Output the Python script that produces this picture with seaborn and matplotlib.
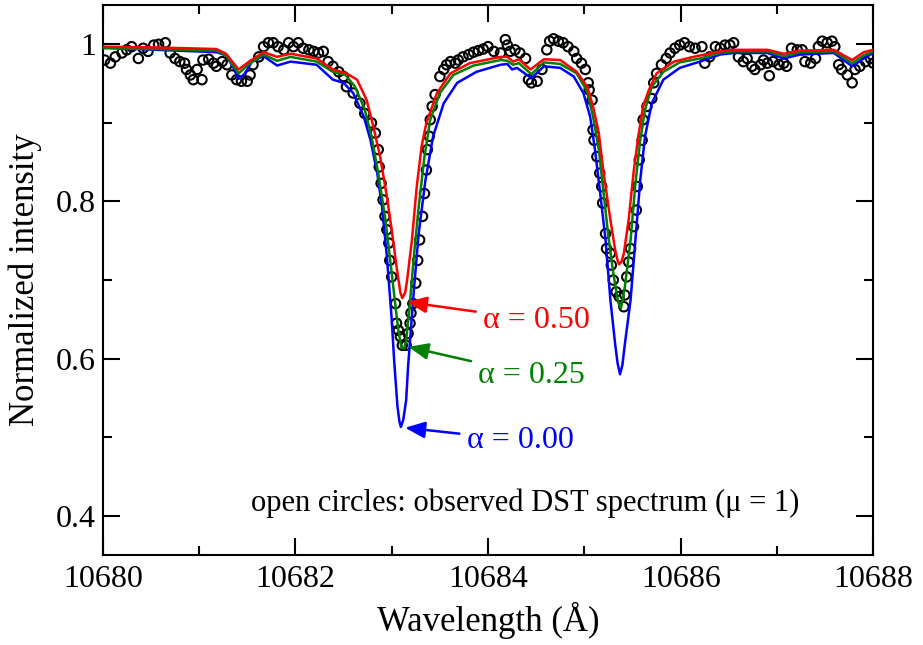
import numpy as np
import pandas as pd
import seaborn as sns
import matplotlib.pyplot as plt

# ---- model curves (wavelength in A, normalized intensity) ----
blue_wl = [10680.00, 10680.55, 10681.18, 10681.28, 10681.35, 10681.41, 10681.47, 10681.55, 10681.67, 10681.81,
           10681.95, 10682.22, 10682.39, 10682.50, 10682.60, 10682.71, 10682.78, 10682.85, 10682.90, 10682.95,
           10683.00, 10683.025, 10683.06, 10683.08, 10683.095, 10683.12, 10683.15, 10683.17, 10683.23, 10683.28,
           10683.35, 10683.43, 10683.54,
           10683.68, 10683.88, 10684.13, 10684.20, 10684.25, 10684.30, 10684.45, 10684.58, 10684.75, 10684.89,
           10684.99, 10685.06, 10685.11, 10685.16, 10685.22, 10685.27, 10685.32, 10685.345, 10685.37, 10685.395,
           10685.42, 10685.48,
           10685.53, 10685.58, 10685.63, 10685.70, 10685.82, 10685.99, 10686.20, 10686.41, 10686.55, 10686.90,
           10687.07, 10687.24, 10687.59, 10687.78, 10687.90, 10688.00]
blue_int = [0.996, 0.993, 0.990, 0.986, 0.972, 0.956, 0.962, 0.978, 0.985, 0.973,
            0.978, 0.974, 0.955, 0.951, 0.938, 0.908, 0.878, 0.836, 0.793, 0.730,
            0.650, 0.598, 0.539, 0.520, 0.513, 0.522, 0.547, 0.590, 0.687, 0.759,
            0.827, 0.883, 0.925,
            0.951, 0.965, 0.974, 0.975, 0.968, 0.970, 0.957, 0.972, 0.970, 0.959,
            0.938, 0.908, 0.866, 0.815, 0.751, 0.675, 0.618, 0.594, 0.580, 0.592,
            0.618, 0.675,
            0.751, 0.827, 0.883, 0.925, 0.955, 0.970, 0.978, 0.987, 0.989, 0.989,
            0.982, 0.987, 0.989, 0.972, 0.982, 0.989]

green_wl = [10680.00, 10680.55, 10681.18, 10681.28, 10681.41, 10681.52, 10681.67, 10681.81, 10681.95, 10682.22,
            10682.39, 10682.52, 10682.62, 10682.72, 10682.79, 10682.86, 10682.93, 10682.98, 10683.04, 10683.07,
            10683.10, 10683.13, 10683.15, 10683.18, 10683.23, 10683.28, 10683.34, 10683.40, 10683.50, 10683.64,
            10683.85,
            10684.13, 10684.20, 10684.26, 10684.32, 10684.45, 10684.58, 10684.75, 10684.92, 10685.03, 10685.09,
            10685.15, 10685.20, 10685.25, 10685.30, 10685.35, 10685.38, 10685.42, 10685.48, 10685.53, 10685.58,
            10685.63, 10685.70, 10685.82, 10685.99, 10686.20, 10686.41, 10686.55, 10686.90, 10687.07, 10687.24,
            10687.59, 10687.78, 10687.90, 10688.00]
green_int = [0.995, 0.994, 0.992, 0.986, 0.963, 0.975, 0.987, 0.979, 0.984, 0.978,
             0.965, 0.961, 0.946, 0.917, 0.883, 0.836, 0.781, 0.730, 0.666, 0.635,
             0.614, 0.613, 0.624, 0.658, 0.730, 0.793, 0.857, 0.904, 0.938, 0.961,
             0.973,
             0.980, 0.979, 0.974, 0.976, 0.962, 0.977, 0.975, 0.963, 0.940, 0.908,
             0.866, 0.810, 0.755, 0.709, 0.672, 0.664, 0.691, 0.751, 0.823, 0.878,
             0.917, 0.946, 0.965, 0.977, 0.982, 0.989, 0.991, 0.991, 0.985, 0.990,
             0.991, 0.976, 0.986, 0.991]

red_wl = [10680.00, 10680.55, 10681.18, 10681.28, 10681.41, 10681.52, 10681.67, 10681.81, 10681.95, 10682.22,
          10682.39, 10682.53, 10682.64, 10682.74, 10682.81, 10682.88, 10682.95, 10683.00, 10683.05, 10683.09,
          10683.11, 10683.14, 10683.16, 10683.21, 10683.26, 10683.31, 10683.36, 10683.47, 10683.61, 10683.81,
          10684.13, 10684.20,
          10684.26, 10684.32, 10684.44, 10684.58, 10684.75, 10684.92, 10685.03, 10685.09, 10685.15, 10685.20,
          10685.27, 10685.32, 10685.345, 10685.36, 10685.385, 10685.41, 10685.46, 10685.51, 10685.56, 10685.61,
          10685.67, 10685.75,
          10685.93, 10686.13, 10686.41, 10686.55, 10686.90, 10687.07, 10687.24, 10687.59, 10687.78, 10687.90,
          10688.00]
red_int = [0.997, 0.996, 0.994, 0.988, 0.968, 0.978, 0.990, 0.984, 0.988, 0.982,
           0.968, 0.963, 0.955, 0.929, 0.895, 0.857, 0.806, 0.764, 0.717, 0.684,
           0.677, 0.684, 0.700, 0.751, 0.819, 0.870, 0.900, 0.938, 0.963, 0.976,
           0.984, 0.984,
           0.978, 0.981, 0.968, 0.981, 0.980, 0.965, 0.946, 0.921, 0.887, 0.836,
           0.777, 0.738, 0.725, 0.720, 0.723, 0.734, 0.777, 0.836, 0.883, 0.921,
           0.942, 0.963,
           0.978, 0.984, 0.991, 0.993, 0.993, 0.988, 0.992, 0.993, 0.980, 0.990,
           0.993]

# ---- observed DST spectrum (open circles) ----
obs_wl = [10680.02, 10680.08, 10680.13, 10680.20, 10680.25, 10680.30, 10680.37, 10680.42, 10680.47, 10680.53,
          10680.58, 10680.65, 10680.70, 10680.75, 10680.80, 10680.85, 10680.87, 10680.91, 10680.94, 10680.98,
          10681.03, 10681.04, 10681.10, 10681.15, 10681.18, 10681.24, 10681.29, 10681.34, 10681.39, 10681.44,
          10681.50, 10681.53, 10681.56, 10681.62, 10681.67, 10681.72, 10681.77, 10681.82, 10681.88, 10681.93,
          10681.98, 10682.03, 10682.08, 10682.14, 10682.19, 10682.24, 10682.29, 10682.34, 10682.39, 10682.45,
          10682.50, 10682.53, 10682.60, 10682.67, 10682.72, 10682.79,
          10682.83, 10682.86, 10682.87, 10682.89, 10682.91, 10682.93, 10682.95, 10682.97, 10682.98, 10683.00,
          10683.04, 10683.05, 10683.07, 10683.09, 10683.11, 10683.15, 10683.17, 10683.19, 10683.20, 10683.22,
          10683.25, 10683.27, 10683.29, 10683.32, 10683.34, 10683.36, 10683.37, 10683.39, 10683.40, 10683.42,
          10683.45,
          10683.50, 10683.54, 10683.57, 10683.61, 10683.66, 10683.69, 10683.74, 10683.80, 10683.85, 10683.90,
          10683.95, 10684.00, 10684.06, 10684.13, 10684.18, 10684.20, 10684.23, 10684.28, 10684.33, 10684.39,
          10684.42, 10684.45, 10684.51, 10684.56, 10684.61, 10684.64, 10684.68, 10684.73, 10684.78, 10684.83,
          10684.89, 10684.92, 10684.97, 10685.01,
          10685.04, 10685.05, 10685.08, 10685.09, 10685.10, 10685.13, 10685.16, 10685.18, 10685.19, 10685.22,
          10685.23, 10685.27, 10685.28, 10685.30, 10685.33, 10685.36, 10685.41, 10685.42, 10685.44, 10685.46,
          10685.48, 10685.51, 10685.54, 10685.55, 10685.57, 10685.60, 10685.61, 10685.65, 10685.70, 10685.72,
          10685.75, 10685.80, 10685.85, 10685.89, 10685.94, 10685.99, 10686.04, 10686.09, 10686.15, 10686.22,
          10686.25, 10686.30, 10686.36, 10686.41, 10686.46, 10686.51, 10686.55, 10686.60, 10686.65, 10686.69,
          10686.74, 10686.77, 10686.83, 10686.86, 10686.90, 10686.92, 10686.96, 10687.02, 10687.07, 10687.10,
          10687.15, 10687.21, 10687.26, 10687.29, 10687.35, 10687.40, 10687.43, 10687.47, 10687.52, 10687.57,
          10687.60, 10687.64, 10687.67, 10687.73, 10687.78, 10687.81, 10687.86, 10687.92, 10687.97, 10688.00]
obs_int = [0.980, 0.976, 0.984, 0.989, 0.993, 0.997, 0.982, 0.995, 0.991, 0.999,
           1.000, 1.002, 0.989, 0.982, 0.978, 0.976, 0.968, 0.961, 0.955, 0.968,
           0.955, 0.980, 0.981, 0.976, 0.972, 0.978, 0.974, 0.961, 0.955, 0.953,
           0.953, 0.961, 0.974, 0.984, 0.997, 1.002, 1.002, 0.997, 0.993, 1.002,
           0.997, 1.002, 0.995, 0.993, 0.991, 0.989, 0.991, 0.978, 0.972, 0.965,
           0.959, 0.946, 0.938, 0.925, 0.912, 0.900,
           0.887, 0.866, 0.844, 0.823, 0.802, 0.781, 0.764, 0.747, 0.725, 0.704,
           0.670, 0.645, 0.636, 0.628, 0.617, 0.617, 0.632, 0.645, 0.658, 0.670,
           0.696, 0.725, 0.751, 0.781, 0.810, 0.840, 0.866, 0.883, 0.904, 0.921,
           0.936,
           0.959, 0.968, 0.974, 0.978, 0.976, 0.980, 0.984, 0.987, 0.990, 0.992,
           0.994, 0.997, 0.991, 0.989, 1.006, 0.999, 0.991, 0.993, 0.989, 0.982,
           0.955, 0.951, 0.953, 0.968, 0.993, 1.004, 1.007, 1.004, 1.002, 0.997,
           0.991, 0.982, 0.976, 0.968,
           0.951, 0.942, 0.929, 0.891, 0.878, 0.857, 0.836, 0.819, 0.798, 0.759,
           0.740, 0.734, 0.719, 0.700, 0.685, 0.679, 0.666, 0.681, 0.704, 0.723,
           0.740, 0.768, 0.789, 0.819, 0.853, 0.878, 0.904, 0.921, 0.931, 0.951,
           0.963, 0.974, 0.982, 0.989, 0.995, 0.999, 1.002, 0.997, 0.995, 0.997,
           0.976, 0.984, 0.997, 0.995, 0.999, 0.999, 1.002, 0.984, 0.978, 0.982,
           0.972, 0.968, 0.974, 0.980, 0.976, 0.960, 0.978, 0.974, 0.976, 0.972,
           0.995, 0.993, 0.993, 0.978, 0.976, 0.982, 0.997, 1.004, 1.002, 1.004,
           0.997, 0.974, 0.968, 0.961, 0.951, 0.968, 0.972, 0.978, 0.982, 0.976]

alpha_labels = ["α = 0.50", "α = 0.25", "α = 0.00"]
xticks = [10680, 10682, 10684, 10686, 10688]
yticks = [0.4, 0.6, 0.8, 1.0]
ytick_labels = ["0.4", "0.6", "0.8", "1"]

sns.set_style("ticks")
plt.rcParams["font.family"] = ["Liberation Serif", "DejaVu Serif"]
plt.rcParams.update({
    "xtick.direction": "in", "ytick.direction": "in",
    "text.color": "black", "axes.labelcolor": "black",
    "xtick.color": "black", "ytick.color": "black",
    "axes.edgecolor": "black",
})

fig = plt.figure(figsize=(9.23, 6.45), dpi=100)
ax = fig.add_axes([0.1113, 0.1395, 0.8349, 0.8527])

obs = pd.DataFrame({"wl": obs_wl, "I": obs_int})
sns.scatterplot(data=obs, x="wl", y="I", ax=ax, marker="o", s=46,
                facecolor="none", edgecolor="black", linewidth=1.5, zorder=2)

for wl, inten, col in [(blue_wl, blue_int, "#0000ff"),
                       (green_wl, green_int, "#008000"),
                       (red_wl, red_int, "#ff0000")]:
    sns.lineplot(x=wl, y=inten, ax=ax, color=col, linewidth=1.8,
                 sort=False, estimator=None, zorder=3)

# arrows + labels
ann = [(alpha_labels[0], (10683.157, 0.672), (10683.95, 0.649), "#ff0000"),
       (alpha_labels[1], (10683.173, 0.615), (10683.90, 0.579), "#008000"),
       (alpha_labels[2], (10683.139, 0.512), (10683.78, 0.496), "#0000ff")]
for txt, tip, pos, col in ann:
    ax.annotate(txt, xy=tip, xytext=pos, color=col, fontsize=23,
                ha="left", va="center",
                arrowprops=dict(arrowstyle="-|>,head_length=0.6,head_width=0.25",
                                color=col, lw=1.8,
                                mutation_scale=20, shrinkA=3, shrinkB=0))

ax.text(10684.39, 0.416, "open circles: observed DST spectrum (μ = 1)",
        ha="center", va="center", fontsize=22)

ax.set_xlim(10680, 10688)
ax.set_ylim(0.35, 1.05)
ax.set_xticks(xticks)
ax.set_xticklabels([str(t) for t in xticks])
ax.set_xticks(np.arange(10681, 10688, 2), minor=True)
ax.set_yticks(yticks)
ax.set_yticklabels(ytick_labels)
ax.set_yticks([0.5, 0.7, 0.9], minor=True)
ax.tick_params(which="both", top=True, right=True, width=1.5, labelsize=23)
ax.tick_params(which="major", length=12)
ax.tick_params(which="minor", length=6.5)
ax.tick_params(axis="x", pad=7)
ax.tick_params(axis="y", pad=5)
for sp in ax.spines.values():
    sp.set_linewidth(1.5)
    sp.set_visible(True)

ax.set_xlabel("Wavelength (Å)", fontsize=25, labelpad=6)
ax.set_ylabel("Normalized intensity", fontsize=25, labelpad=10)

fig.savefig("out.png", dpi=100)
